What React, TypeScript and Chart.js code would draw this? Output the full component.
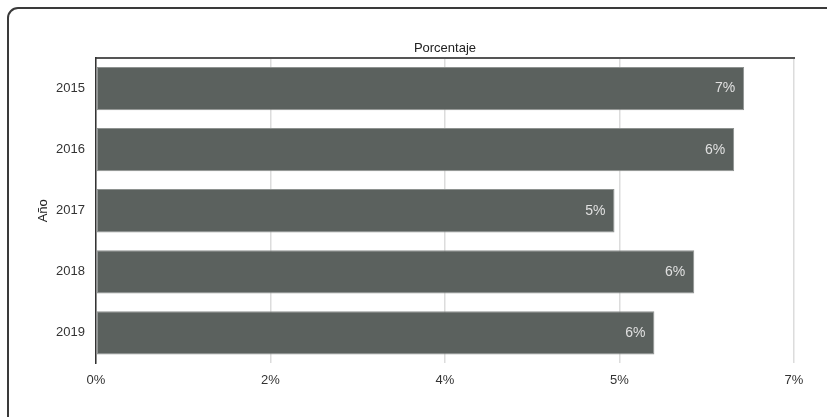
import React, { useEffect, useRef } from "react";
import { Chart, registerables } from "chart.js";

Chart.register(...registerables);

const years = ["2015", "2016", "2017", "2018", "2019"];
const porcentajes = [6.5, 6.4, 5.2, 6.0, 5.6];
const axisMin = 0;
const axisMax = 7;
const axisStep = 1.75;

const FONT = "Arial, 'Liberation Sans', sans-serif";

const barLabelPlugin = {
  id: "barLabels",
  afterDatasetsDraw(chart: any) {
    const ctx = chart.ctx;
    const meta = chart.getDatasetMeta(0);
    ctx.save();
    ctx.font = `14px ${FONT}`;
    ctx.fillStyle = "#e0e0e0";
    ctx.textAlign = "right";
    ctx.textBaseline = "middle";
    meta.data.forEach((bar: any, i: number) => {
      const v = chart.data.datasets[0].data[i] as number;
      ctx.fillText(Math.round(v) + "%", bar.x - 9, bar.y);
    });
    ctx.restore();
  },
};

export default function App() {
  const ref = useRef<HTMLCanvasElement | null>(null);
  useEffect(() => {
    document.body.style.overflow = "hidden";
    const chart = new Chart(ref.current as HTMLCanvasElement, {
      type: "bar",
      data: {
        labels: years,
        datasets: [
          {
            data: porcentajes,
            backgroundColor: "#5b615e",
            borderColor: "#8e9290",
            borderWidth: 1,
            borderSkipped: false,
            barPercentage: 0.71,
            categoryPercentage: 1,
            xAxisID: "x",
          },
        ],
      },
      options: {
        indexAxis: "y",
        animation: false,
        responsive: false,
        layout: { padding: { left: 28, right: 33, top: 36.5, bottom: 20 } },
        plugins: { legend: { display: false }, tooltip: { enabled: false } },
        scales: {
          x: {
            type: "linear",
            position: "bottom",
            min: axisMin,
            max: axisMax,
            grid: { color: "#dcdcdc", lineWidth: 1.5, drawTicks: false },
            border: { display: false },
            ticks: {
              stepSize: axisStep,
              padding: 9,
              color: "#333",
              font: { size: 13, family: FONT },
              callback: (v: any) => Math.round(Number(v)) + "%",
            },
          },
          x2: {
            type: "linear",
            position: "top",
            min: axisMin,
            max: axisMax,
            grid: { display: false, drawTicks: false },
            border: { display: true, color: "#555", width: 2 },
            ticks: { display: false },
            title: {
              display: true,
              text: "Porcentaje",
              color: "#222",
              font: { size: 13, family: FONT },
              padding: { top: 4, bottom: 2 },
            },
          },
          y: {
            grid: { display: false, drawTicks: false },
            border: { display: true, color: "#333", width: 1.5 },
            ticks: {
              padding: 11,
              color: "#333",
              font: { size: 13, family: FONT },
            },
            title: {
              display: true,
              text: "Año",
              color: "#222",
              font: { size: 13, family: FONT },
              padding: { top: 8, bottom: -6.6 },
            },
          },
        },
      },
      plugins: [barLabelPlugin],
    });
    return () => chart.destroy();
  }, []);

  return (
    <>
      <div
        style={{
          position: "fixed",
          left: 7,
          top: 7,
          width: 1000,
          height: 1000,
          border: "2px solid #3a3a3a",
          borderTopLeftRadius: 11,
          boxSizing: "border-box",
        }}
      />
      <canvas
        ref={ref}
        width={827}
        height={417}
        style={{ position: "fixed", left: 0, top: 0, width: 827, height: 417 }}
      />
    </>
  );
}
